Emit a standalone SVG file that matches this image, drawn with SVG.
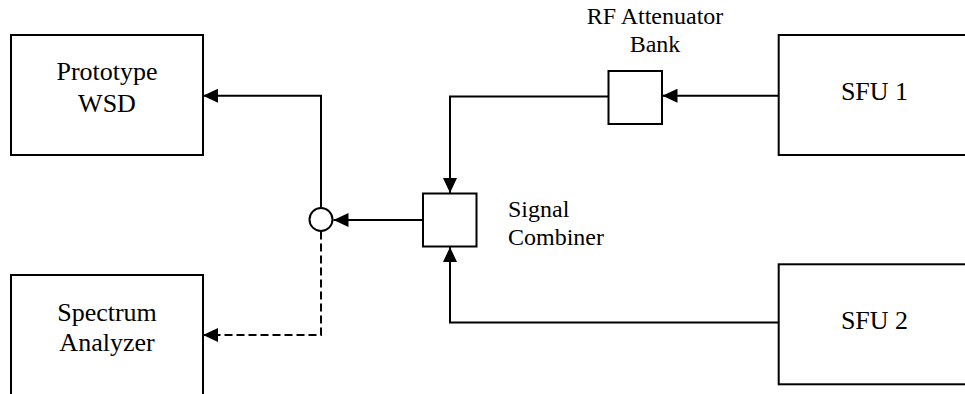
<svg xmlns="http://www.w3.org/2000/svg" width="965" height="394" viewBox="0 0 965 394">
<style>
.box{fill:#fff;stroke:#000;stroke-width:2}
.lbl{font-family:"Liberation Serif","Times New Roman",serif;fill:#000}
.big{font-size:26px;text-anchor:middle}
.sm{font-size:24px}
.wire{fill:none;stroke:#000;stroke-width:2}
.dash{stroke-dasharray:8 4}
</style>
<defs>
<marker id="arr" viewBox="0 0 15 14" refX="15" refY="7" markerWidth="15" markerHeight="14" markerUnits="userSpaceOnUse" orient="auto">
<path d="M0,0 L15,7 L0,14 z" fill="#000"/>
</marker>
</defs>
<rect width="965" height="394" fill="#fff"/>
<g id="connectors">
<path class="wire" d="M778.7,95.7 H662.5" marker-end="url(#arr)"/>
<path class="wire" d="M608.5,96.5 H450 V193" marker-end="url(#arr)"/>
<path class="wire" d="M778.7,322.5 H450 V247" marker-end="url(#arr)"/>
<path class="wire" d="M423,220 H333.5" marker-end="url(#arr)"/>
<path class="wire" d="M321,207.5 V95.7 H203" marker-end="url(#arr)"/>
<path class="wire dash" d="M321,231.5 V335 H203" marker-end="url(#arr)"/>
</g>
<g id="prototype-wsd">
<rect class="box" x="11" y="35" width="192" height="120"/>
<text class="lbl big" x="107" y="80">Prototype</text>
<text class="lbl big" x="107" y="112">WSD</text>
</g>
<g id="spectrum-analyzer">
<rect class="box" x="11" y="275" width="192" height="120"/>
<text class="lbl big" x="107" y="320.5">Spectrum</text>
<text class="lbl big" x="107" y="351">Analyzer</text>
</g>
<g id="splitter">
<circle class="box" cx="321" cy="219.5" r="11.5"/>
</g>
<g id="signal-combiner">
<rect class="box" x="423" y="193.5" width="53.5" height="53"/>
<text class="lbl sm" x="508" y="216.5">Signal</text>
<text class="lbl sm" x="508" y="245">Combiner</text>
</g>
<g id="rf-attenuator-bank">
<rect class="box" x="608.5" y="71" width="53.5" height="53"/>
<text class="lbl sm" x="655" y="24" text-anchor="middle">RF Attenuator</text>
<text class="lbl sm" x="655" y="51.5" text-anchor="middle">Bank</text>
</g>
<g id="sfu1">
<rect class="box" x="778.7" y="35" width="192" height="120"/>
<text class="lbl big" x="874.5" y="100">SFU 1</text>
</g>
<g id="sfu2">
<rect class="box" x="778.7" y="264.3" width="192" height="120"/>
<text class="lbl big" x="874.5" y="328.5">SFU 2</text>
</g>
</svg>
